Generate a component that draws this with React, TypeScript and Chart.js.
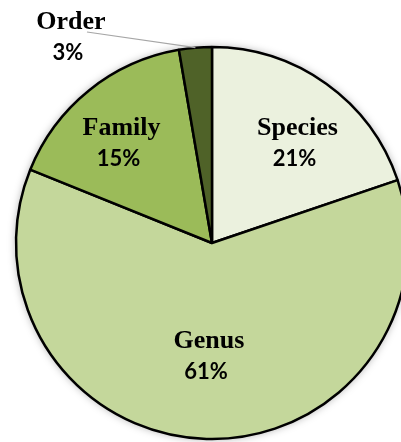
import React, { useEffect, useRef } from "react";
import { Chart, registerables } from "chart.js";

Chart.register(...registerables);

const categories = ["Species", "Genus", "Family", "Order"];
const shares = [19.8, 61.3, 16.2, 2.7];
const pctLabels = ["21%", "61%", "15%", "3%"];
const colors = ["#EBF1DE", "#C4D79B", "#9BBB59", "#4F6228"];

// label anchor offsets relative to pie centre (name baseline), px
const labelOffsets: [number, number][] = [
  [85.5, -108],
  [-3, 104.5],
  [-90.5, -108],
  [-141, -214],
];

const labelPlugin = {
  id: "pieLabels",
  beforeDatasetsDraw(chart: any) {
    const meta = chart.getDatasetMeta(0);
    const arc = meta.data[0];
    if (!arc) return;
    const ctx = chart.ctx;
    ctx.save();
    ctx.shadowColor = "rgba(0,0,0,0.35)";
    ctx.shadowBlur = 9;
    ctx.fillStyle = "#ffffff";
    ctx.beginPath();
    ctx.arc(arc.x, arc.y, arc.outerRadius, 0, Math.PI * 2);
    ctx.fill();
    ctx.restore();
  },
  afterDatasetsDraw(chart: any) {
    const meta = chart.getDatasetMeta(0);
    const ctx = chart.ctx;
    ctx.save();
    ctx.textAlign = "center";
    ctx.textBaseline = "alphabetic";
    ctx.fillStyle = "#000";
    meta.data.forEach((a: any, i: number) => {
      const cx = a.x + labelOffsets[i][0];
      const cy = a.y + labelOffsets[i][1];
      ctx.font = 'bold 26px "Liberation Serif"';
      ctx.fillText(categories[i], cx, cy);
      ctx.font = 'bold 22px "Lato"';
      ctx.fillText(pctLabels[i], cx - 3, cy + 31);
      if (i === 3) {
        const mid = (a.startAngle + a.endAngle) / 2;
        const ex = a.x + Math.cos(mid) * a.outerRadius;
        const ey = a.y + Math.sin(mid) * a.outerRadius;
        ctx.strokeStyle = "#A6A6A6";
        ctx.lineWidth = 1.2;
        ctx.beginPath();
        ctx.moveTo(cx + 16, cy + 3);
        ctx.lineTo(ex, ey);
        ctx.stroke();
      }
    });
    ctx.restore();
  },
};

export default function App() {
  const ref = useRef<HTMLCanvasElement | null>(null);
  useEffect(() => {
    if (!ref.current) return;
    const chart = new Chart(ref.current, {
      type: "pie",
      data: {
        labels: categories,
        datasets: [
          {
            data: shares,
            backgroundColor: colors,
            borderColor: "#000000",
            borderWidth: 2.5,
            radius: 196,
          } as any,
        ],
      },
      options: {
        responsive: false,
        animation: false,
        devicePixelRatio: 1,
        plugins: {
          legend: { display: false },
          tooltip: { enabled: false },
        },
        layout: { padding: 0 },
      },
      plugins: [labelPlugin],
    });
    return () => chart.destroy();
  }, []);
  return (
    <div
      style={{
        position: "fixed",
        left: 0,
        top: 0,
        width: 401,
        height: 442,
        overflow: "hidden",
        background: "#fff",
      }}
    >
      <canvas ref={ref} width={424} height={486} style={{ display: "block" }} />
    </div>
  );
}
